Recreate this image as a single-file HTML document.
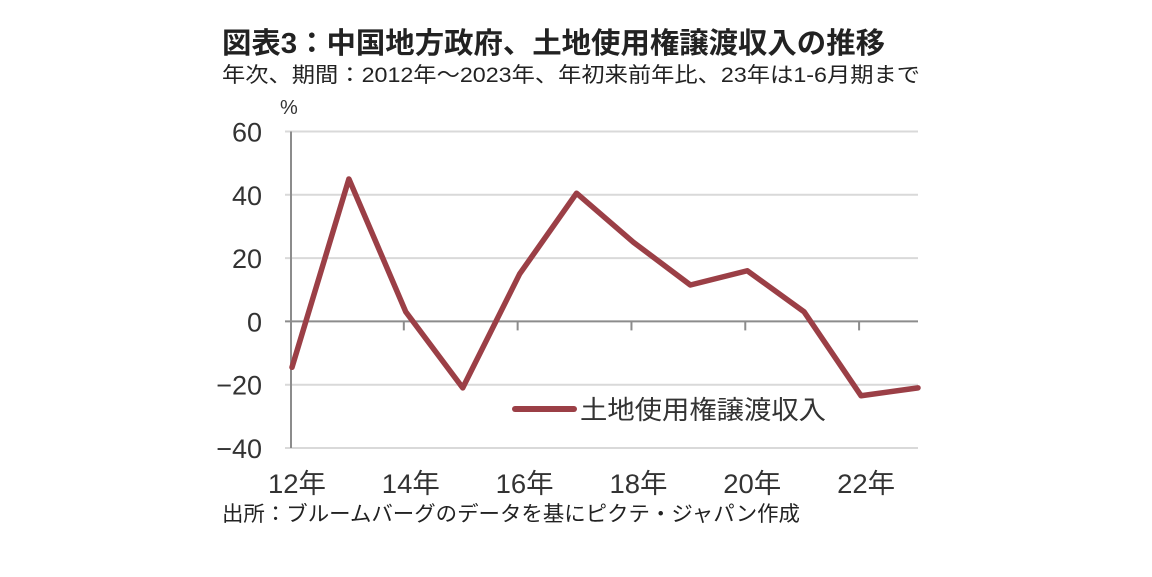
<!DOCTYPE html>
<html><head><meta charset="utf-8"><style>
body{margin:0;background:#fff;width:1152px;height:577px;overflow:hidden;font-family:"Liberation Sans","Noto Sans CJK JP",sans-serif;}
.t{position:absolute;white-space:nowrap;color:#222;transform-origin:0 0;}
</style></head><body>
<div class="t fit" data-w="663" style="left:222px;top:20px;font-size:29px;font-weight:bold;">図表3：中国地方政府、土地使用権譲渡収入の推移</div>
<div class="t fit" data-w="698" style="left:222px;top:59px;font-size:21px;">年次、期間：2012年～2023年、年初来前年比、23年は1-6月期まで</div>
<div class="t fit" data-w="578" style="left:222px;top:498px;font-size:21px;">出所：ブルームバーグのデータを基にピクテ・ジャパン作成</div>
<svg id="c" width="1152" height="577" style="position:absolute;left:0;top:0"></svg>
<script>
const years=['12年','13年','14年','15年','16年','17年','18年','19年','20年','21年','22年','23年'];
const values=[-14.5,45,3,-21,15,40.5,25,11.5,16,3,-23.5,-21];
const yTicks=[60,40,20,0,-20,-40];
const xLabelIdx=[0,2,4,6,8,10];
document.querySelectorAll('.fit').forEach(e=>{const w=e.getBoundingClientRect().width;e.style.transform='scaleX('+(+e.dataset.w/w)+')';});
const svg=document.getElementById('c');const NS='http://www.w3.org/2000/svg';
const x0=292,x1=918,yTop=131.5,yBot=448,yMax=60,yMin=-40;
const xs=i=>x0+i*(x1-x0)/(years.length-1);
const ys=v=>yTop+(yMax-v)*(yBot-yTop)/(yMax-yMin);
function mk(t,a){const e=document.createElementNS(NS,t);for(const k in a)e.setAttribute(k,a[k]);svg.appendChild(e);return e;}
yTicks.forEach(v=>{
 const g=mk('line',{x1:285,x2:x1,y1:ys(v),y2:ys(v),stroke:v===0?'#8c8c8c':'#d9d9d9','stroke-width':2});
 
 
 const t=mk('text',{x:262,y:ys(v)+10,'text-anchor':'end','font-size':27,fill:'#333'});
 t.textContent=v<0?'−'+Math.abs(v):v;
 
 
});
const ax=mk('line',{x1:x0-1,x2:x0-1,y1:yTop,y2:yBot,stroke:'#8c8c8c','stroke-width':2});


const pc=mk('text',{x:280,y:114,'font-size':20,fill:'#333'});pc.textContent='%';


xLabelIdx.forEach(i=>{
 if(i>0){const tk=mk('line',{x1:xs(i)-2,x2:xs(i)-2,y1:ys(0),y2:ys(0)+9,stroke:'#8c8c8c','stroke-width':2});
 
 }
 const t=mk('text',{x:xs(i)+5,y:493,'text-anchor':'middle','font-size':27,fill:'#333',textLength:58,lengthAdjust:'spacingAndGlyphs'});
 t.textContent=years[i];
 
 
});
const p=mk('polyline',{points:values.map((v,i)=>xs(i)+','+ys(v)).join(' '),fill:'none',stroke:'#9b3f46','stroke-width':5.5,'stroke-linejoin':'round','stroke-linecap':'round'});


const ll=mk('line',{x1:515,x2:574,y1:409,y2:409,stroke:'#9b3f46','stroke-width':6,'stroke-linecap':'round'});


const lt=mk('text',{x:580,y:419,'font-size':26,fill:'#333',textLength:246,lengthAdjust:'spacingAndGlyphs'});lt.textContent='土地使用権譲渡収入';


</script>
</body></html>
